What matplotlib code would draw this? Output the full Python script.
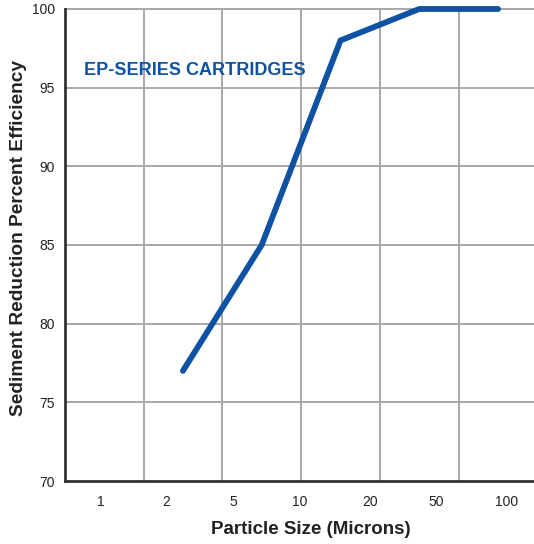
import matplotlib.pyplot as plt
from matplotlib.ticker import FixedLocator

plt.rcParams['font.family'] = ['Liberation Sans', 'DejaVu Sans']

# grid columns (line points sit in the middle of columns 1..5)
columns = [1, 2, 3, 4, 5]
efficiency = [77, 85, 98, 100, 100]

size_labels = ['1', '2', '5', '10', '20', '50', '100']
label_pos = [0.454, 1.286, 2.136, 2.987, 3.876, 4.712, 5.614]
y_ticks = [70, 75, 80, 85, 90, 95, 100]

blue = '#0f52a3'
fig = plt.figure(figsize=(5.34, 5.44), dpi=100)
ax = fig.add_axes([0.1212, 0.1158, 0.8788, 0.8677])

xs = [c + 0.5 for c in columns]
ax.plot(xs, efficiency, color=blue, lw=4.2, solid_capstyle='round',
        solid_joinstyle='miter', clip_on=False, zorder=3)

ax.set_xlim(0, 5.956)
ax.set_ylim(70, 100)
for gx in range(1, 6):
    ax.axvline(gx, color='#a8a8a8', lw=1.4, zorder=1)
for gy in y_ticks[1:]:
    ax.axhline(gy, color='#a8a8a8', lw=1.4, zorder=1, clip_on=False)

ax.xaxis.set_major_locator(FixedLocator(label_pos))
ax.set_xticklabels(size_labels)
ax.set_yticks(y_ticks)
ax.tick_params(axis='both', length=0, labelsize=10, colors='#222222')
ax.tick_params(axis='x', pad=10)
ax.tick_params(axis='y', pad=7)

for s in ['top', 'right']:
    ax.spines[s].set_visible(False)
for s in ['left', 'bottom']:
    ax.spines[s].set_color('#333333')
    ax.spines[s].set_linewidth(2)

ax.set_xlabel('Particle Size (Microns)', fontsize=13.5, fontweight='bold',
              color='#222222', labelpad=11)
ax.xaxis.set_label_coords(0.525, -0.085)
ax.set_ylabel('Sediment Reduction Percent Efficiency', fontsize=13.8,
              fontweight='bold', color='#222222')
ax.yaxis.set_label_coords(-0.08, 0.515)

ax.text(0.24, 96.1, 'EP-SERIES CARTRIDGES', color=blue, fontsize=13,
        fontweight='bold', va='center', ha='left')

fig.savefig('out.png')
